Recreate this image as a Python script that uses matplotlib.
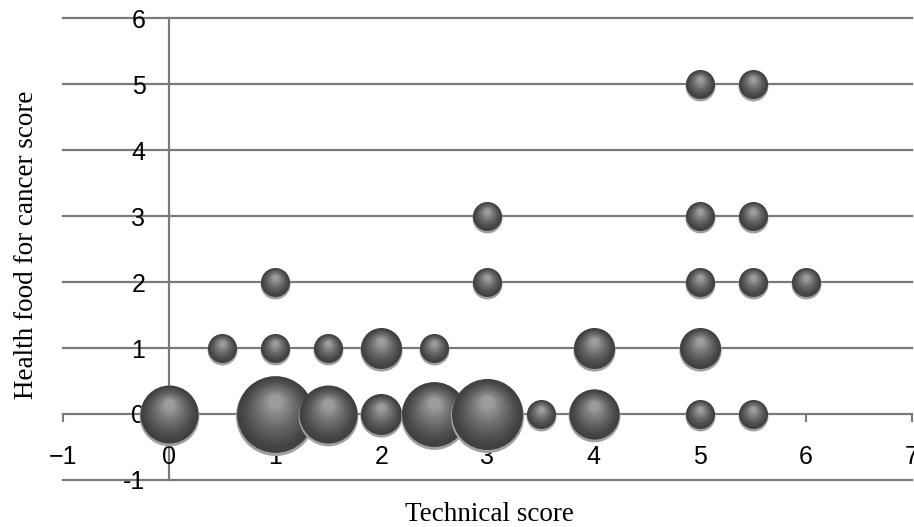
import numpy as np
import matplotlib
matplotlib.use('Agg')
import matplotlib.pyplot as plt
from matplotlib.transforms import offset_copy

# bubble data (count = relative bubble area)
tech = [0, 1, 1.5, 2, 2.5, 3, 3.5, 4, 5, 5.5,
        0.5, 1, 1.5, 2, 2.5, 4, 5,
        1, 3, 5, 5.5, 6,
        3, 5, 5.5,
        5, 5.5]
health = [0, 0, 0, 0, 0, 0, 0, 0, 0, 0,
          1, 1, 1, 1, 1, 1, 1,
          2, 2, 2, 2, 2,
          3, 3, 3,
          5, 5]
count = [4, 7, 4, 2, 5, 6, 1, 3, 1, 1,
         1, 1, 1, 2, 1, 2, 2,
         1, 1, 1, 1, 1,
         1, 1, 1,
         1, 1]

x_ticks = [-1, 0, 1, 2, 3, 4, 5, 6, 7]
y_ticks = [-1, 0, 1, 2, 3, 4, 5, 6]
x_labels = ['\u22121', '0', '1', '2', '3', '4', '5', '6', '7']
y_labels = ['-1', '0', '1', '2', '3', '4', '5', '6']

fig = plt.figure(figsize=(9.14, 5.27), dpi=100)
ax = fig.add_axes([0.0689, 0.0892, 0.9289, 0.8766])
ax.set_xlim(-1, 7)
ax.set_ylim(-1, 6)

grid_col = '#7a7a7a'
for yv in y_ticks:
    if yv != 0:
        ax.axhline(yv, color=grid_col, lw=1.6, zorder=1, clip_on=False)

for s in ['top', 'right']:
    ax.spines[s].set_visible(False)
ax.spines['left'].set_position(('data', 0))
ax.spines['bottom'].set_position(('data', 0))
for s in ['left', 'bottom']:
    ax.spines[s].set_color(grid_col)
    ax.spines[s].set_linewidth(1.6)
    ax.spines[s].set_zorder(1)

tick_font = ['Liberation Sans Narrow', 'Liberation Sans']
ax.set_xticks(x_ticks)
ax.set_yticks(y_ticks)
ax.set_xticklabels(x_labels, family=tick_font, fontsize=18)
ax.set_yticklabels(y_labels, family=tick_font, fontsize=18)
ax.tick_params(axis='x', direction='out', length=6, width=1.5, color=grid_col, pad=16.5)
ax.tick_params(axis='y', length=0, pad=17)

ax.set_xlabel('Technical score', family='Liberation Serif', fontsize=19.5)
ax.set_ylabel('Health food for cancer score', family='Liberation Serif', fontsize=19.5)
ax.xaxis.set_label_coords(0.502, -0.047)
ax.yaxis.set_label_coords(-0.028, 0.509)

# shaded 3d-like bubbles
base_d = 29 * 0.72  # diameter in points for count 1
n_layers = 16
for xv, yv, c in zip(tech, health, count):
    d = base_d * np.sqrt(c)
    sh = offset_copy(ax.transData, fig=fig, x=0, y=-1.2, units='points')
    ax.scatter([xv], [yv], s=(d * 1.03) ** 2, color='#a0a0a0', lw=0, zorder=3,
               transform=sh)
    for k in range(n_layers):
        t = k / (n_layers - 1)
        f = 1 - 0.82 * t
        g = 0.25 + 0.36 * t ** 1.3
        tr = offset_copy(ax.transData, fig=fig, x=0, y=(1 - f) * d * 0.2, units='points')
        ax.scatter([xv], [yv], s=(d * f) ** 2, color=(g, g, g), lw=0, zorder=3,
                   transform=tr)

fig.savefig('out.png', dpi=100)
